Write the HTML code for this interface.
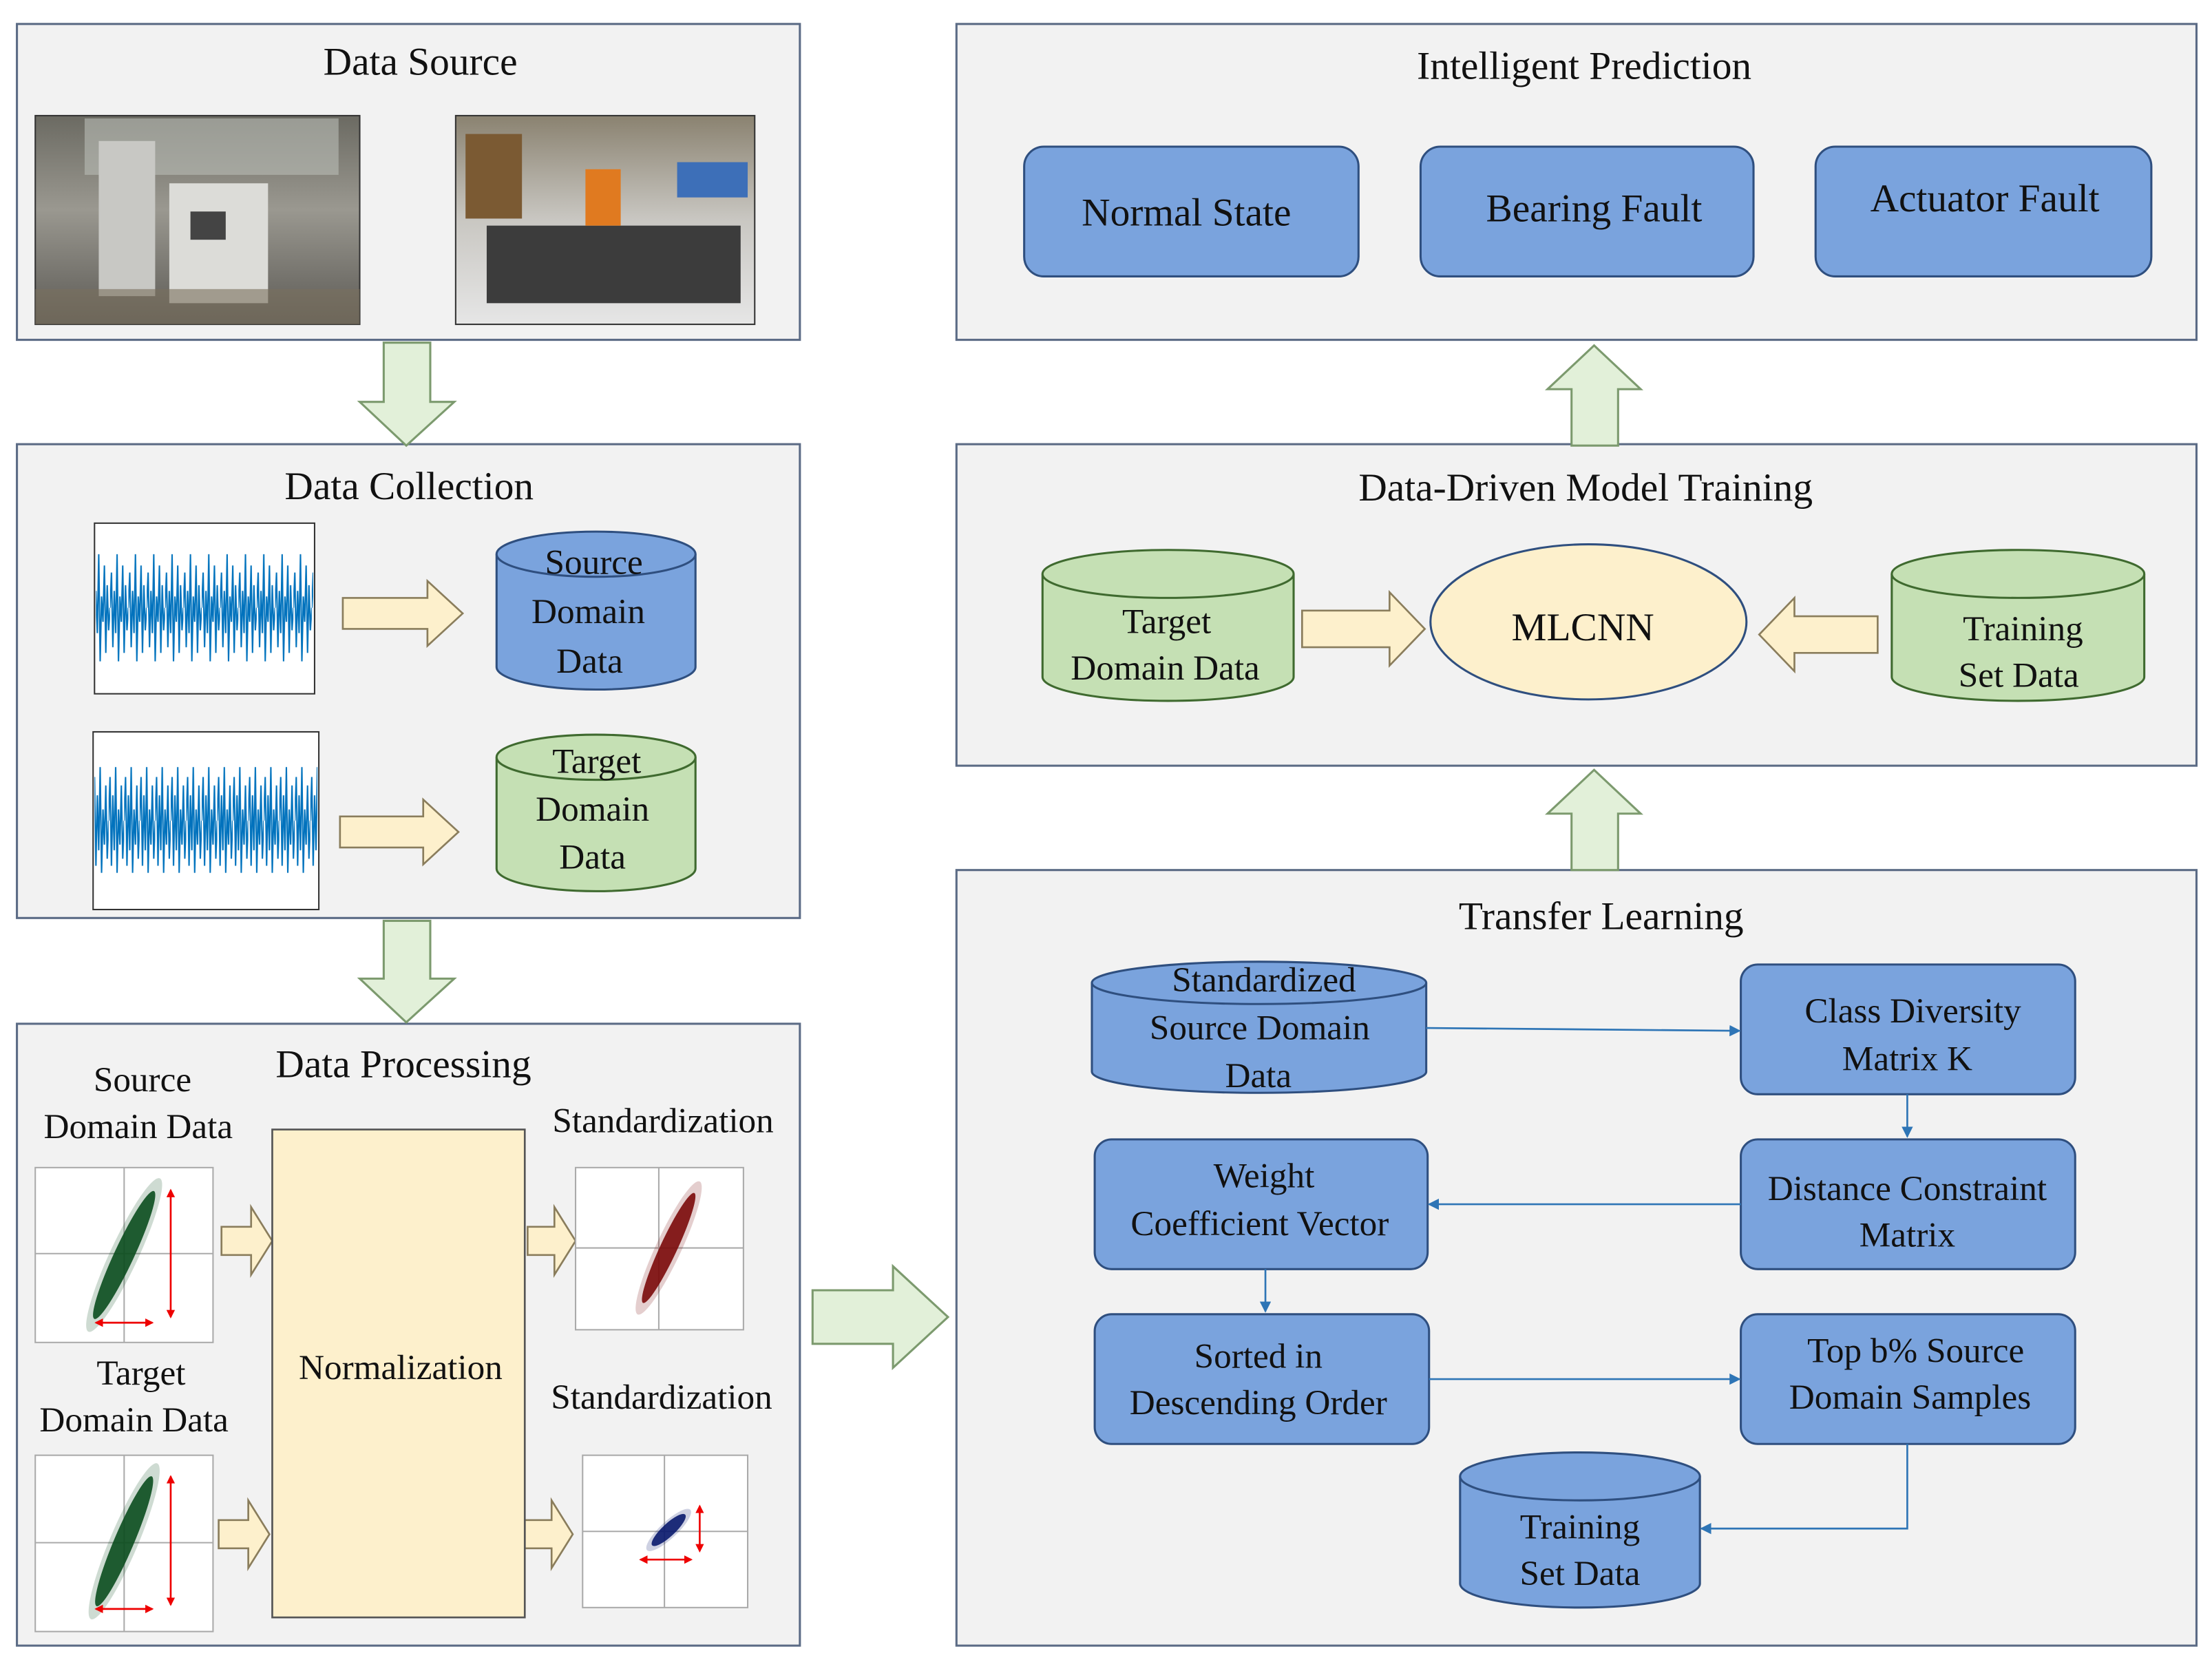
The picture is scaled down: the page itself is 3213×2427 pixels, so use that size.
<!DOCTYPE html>
<html><head><meta charset="utf-8"><style>
html,body{margin:0;padding:0;background:#fff;}
svg{display:block;}
text{font-family:"Liberation Serif","Times New Roman",serif;}
</style></head><body>
<svg width="3213" height="2427" viewBox="0 0 1568 1185" preserveAspectRatio="none" xmlns="http://www.w3.org/2000/svg" fill="#111">
<defs>
<marker id="ah" markerWidth="8" markerHeight="8" refX="7" refY="4" orient="auto" markerUnits="userSpaceOnUse"><path d="M0,0 L8,4 L0,8 z" fill="#2e75b6"/></marker>
<marker id="rh" markerWidth="6" markerHeight="6" refX="5" refY="3" orient="auto-start-reverse" markerUnits="userSpaceOnUse"><path d="M0,0 L6,3 L0,6 z" fill="#e00"/></marker>
<linearGradient id="p1" x1="0" y1="0" x2="0" y2="1"><stop offset="0" stop-color="#6b6a62"/><stop offset="0.45" stop-color="#9a9890"/><stop offset="1" stop-color="#5c5a55"/></linearGradient>
<linearGradient id="p2" x1="0" y1="0" x2="0" y2="1"><stop offset="0" stop-color="#8a8270"/><stop offset="0.5" stop-color="#c9c7c2"/><stop offset="1" stop-color="#e6e6e6"/></linearGradient>
<pattern id="sg1" patternUnits="userSpaceOnUse" x="0" y="371" width="13" height="121">
<path d="M0,60 L1,35 L2,88 L3,48 L4,78 L5,22 L6,98 L7,52 L8,70 L9,30 L10,92 L11,44 L12,76 L13,60" fill="none" stroke="#0072bd" stroke-width="1"/>
</pattern>
<pattern id="sg2" patternUnits="userSpaceOnUse" x="0" y="519" width="11" height="126">
<path d="M0,63 L1,32 L2,95 L3,45 L4,84 L5,25 L6,100 L7,55 L8,80 L9,38 L10,90 L11,63" fill="none" stroke="#0072bd" stroke-width="1"/>
</pattern>
</defs>
<g fill="#f2f2f2" stroke="#5b6b85" stroke-width="1.5">
<rect x="12" y="17" width="555" height="224"/>
<rect x="12" y="315" width="555" height="336"/>
<rect x="12" y="726" width="555" height="441"/>
<rect x="678" y="17" width="879" height="224"/>
<rect x="678" y="315" width="879" height="228"/>
<rect x="678" y="617" width="879" height="550"/>
</g>
<g font-size="28" text-anchor="middle">
<text x="298" y="53">Data Source</text>
<text x="290" y="354">Data Collection</text>
<text x="286" y="764">Data Processing</text>
<text x="1123" y="56">Intelligent Prediction</text>
<text x="1124" y="355">Data-Driven Model Training</text>
<text x="1135" y="659">Transfer Learning</text>
</g>
<rect x="25" y="82" width="230" height="148" fill="url(#p1)" stroke="#333"/>
<rect x="60" y="84" width="180" height="40" fill="#b9bdb5" opacity="0.6"/>
<rect x="70" y="100" width="40" height="110" fill="#c8c8c4"/>
<rect x="120" y="130" width="70" height="85" fill="#dcdcd8"/>
<rect x="135" y="150" width="25" height="20" fill="#444"/>
<rect x="25" y="205" width="230" height="25" fill="#7a6f5e" opacity="0.6"/>
<rect x="323" y="82" width="212" height="148" fill="url(#p2)" stroke="#333"/>
<rect x="330" y="95" width="40" height="60" fill="#7b5a33"/>
<rect x="345" y="160" width="180" height="55" fill="#3c3c3c"/>
<rect x="415" y="120" width="25" height="40" fill="#e07a20"/>
<rect x="480" y="115" width="50" height="25" fill="#3d6fb8"/>
<g fill="#e2f0d9" stroke="#7c9a6e" stroke-width="1.5">
<path d="M272,243 H305 V285 H322 L288,316 L255,285 H272 Z"/>
<path d="M272,653 H305 V694 H322 L288,725 L255,694 H272 Z"/>
<path d="M1114,316 H1147 V276 H1163 L1130,245 L1097,276 H1114 Z"/>
<path d="M1114,617 H1147 V577 H1163 L1130,546 L1097,577 H1114 Z"/>
<path d="M576,915 H633 V898 L672,934 L633,970 V953 H576 Z"/>
</g>
<g fill="#fdf0cc" stroke="#8a7d5c" stroke-width="1.3">
<path d="M243,424 H303 V412 L328,435 L303,458 V446 H243 Z"/>
<path d="M241,579 H300 V567 L325,590 L300,613 V601 H241 Z"/>
<path d="M157,870 H178 V856 L193,880 L178,904 V890 H157 Z"/>
<path d="M155,1078 H176 V1064 L191,1088 L176,1112 V1098 H155 Z"/>
<path d="M374,870 H393 V856 L408,880 L393,904 V890 H374 Z"/>
<path d="M372,1078 H391 V1064 L406,1088 L391,1112 V1098 H372 Z"/>
<path d="M923,433 H985 V420 L1010,446 L985,472 V459 H923 Z"/>
<path d="M1331,437 H1272 V424 L1247,450 L1272,476 V463 H1331 Z"/>
</g>
<rect x="67" y="371" width="156" height="121" fill="#fff" stroke="#333"/>
<rect x="68" y="378" width="154" height="108" fill="url(#sg1)"/>
<rect x="66" y="519" width="160" height="126" fill="#fff" stroke="#333"/>
<rect x="67" y="526" width="158" height="113" fill="url(#sg2)"/>
<g stroke="#2f4f7f" stroke-width="1.5" fill="#7aa3dd">
<path d="M352,393 V473 A70.5,16 0 0 0 493,473 V393"/>
<ellipse cx="422.5" cy="393" rx="70.5" ry="16"/>
<path d="M774,697 V760 A118.5,15 0 0 0 1011,760 V697"/>
<ellipse cx="892.5" cy="697" rx="118.5" ry="15"/>
<path d="M1035,1047 V1123 A85,17 0 0 0 1205,1123 V1047"/>
<ellipse cx="1120" cy="1047" rx="85" ry="17"/>
</g>
<g stroke="#3f6a2f" stroke-width="1.5" fill="#c5e0b4">
<path d="M352,537 V616 A70.5,16 0 0 0 493,616 V537"/>
<ellipse cx="422.5" cy="537" rx="70.5" ry="16"/>
<path d="M739,407 V480 A89,17 0 0 0 917,480 V407"/>
<ellipse cx="828" cy="407" rx="89" ry="17"/>
<path d="M1341,407 V480 A89.5,17 0 0 0 1520,480 V407"/>
<ellipse cx="1430.5" cy="407" rx="89.5" ry="17"/>
</g>
<g font-size="25" text-anchor="middle">
<text x="421" y="407">Source</text><text x="417" y="442">Domain</text><text x="418" y="477">Data</text>
<text x="423" y="548">Target</text><text x="420" y="582">Domain</text><text x="420" y="616">Data</text>
<text x="827" y="449">Target</text><text x="826" y="482">Domain Data</text>
<text x="1434" y="454">Training</text><text x="1431" y="487">Set Data</text>
<text x="896" y="703">Standardized</text><text x="893" y="737">Source Domain</text><text x="892" y="771">Data</text>
<text x="1120" y="1091">Training</text><text x="1120" y="1124">Set Data</text>
</g>
<rect x="193" y="801" width="179" height="346" fill="#fdf0cc" stroke="#555" stroke-width="1.3"/>
<g font-size="25" text-anchor="middle">
<text x="284" y="978">Normalization</text>
<text x="101" y="774">Source</text><text x="98" y="807">Domain Data</text>
<text x="100" y="982">Target</text><text x="95" y="1015">Domain Data</text>
<text x="470" y="803">Standardization</text><text x="469" y="999">Standardization</text>
</g>
<g fill="#fff" stroke="#aaa" stroke-width="1">
<rect x="25" y="828" width="126" height="124"/>
<rect x="25" y="1032" width="126" height="125"/>
<rect x="408" y="828" width="119" height="115"/>
<rect x="413" y="1032" width="117" height="108"/>
<path d="M88,828V952M25,889H151M88,1032V1157M25,1094H151M467,828V943M408,885H527M471,1032V1140M413,1086H530" fill="none"/>
</g>
<g>
<ellipse rx="60" ry="10" fill="#0b4d1e" opacity="0.2" transform="translate(88,890) rotate(-65)"/>
<ellipse rx="50" ry="7" fill="#0b4d1e" opacity="0.9" transform="translate(88,890) rotate(-65)"/>
<ellipse rx="60" ry="10" fill="#0b4d1e" opacity="0.2" transform="translate(88,1093) rotate(-67)"/>
<ellipse rx="50" ry="7" fill="#0b4d1e" opacity="0.9" transform="translate(88,1093) rotate(-67)"/>
<ellipse rx="52" ry="9" fill="#7a0a0a" opacity="0.2" transform="translate(474,885) rotate(-65)"/>
<ellipse rx="43" ry="6" fill="#7a0a0a" opacity="0.9" transform="translate(474,885) rotate(-65)"/>
<ellipse rx="21" ry="6" fill="#0a1a6e" opacity="0.2" transform="translate(474,1085) rotate(-43)"/>
<ellipse rx="16" ry="4.5" fill="#0a1a6e" opacity="0.9" transform="translate(474,1085) rotate(-43)"/>
</g>
<g stroke="#e00" stroke-width="1.3" marker-start="url(#rh)" marker-end="url(#rh)">
<line x1="121" y1="844" x2="121" y2="934"/><line x1="68" y1="938" x2="108" y2="938"/>
<line x1="121" y1="1047" x2="121" y2="1138"/><line x1="68" y1="1141" x2="108" y2="1141"/>
<line x1="496" y1="1068" x2="496" y2="1100"/><line x1="454" y1="1106" x2="490" y2="1106"/>
</g>
<g fill="#7aa3dd" stroke="#2f4f7f" stroke-width="1.5">
<rect x="726" y="104" width="237" height="92" rx="14"/>
<rect x="1007" y="104" width="236" height="92" rx="14"/>
<rect x="1287" y="104" width="238" height="92" rx="14"/>
<rect x="1234" y="684" width="237" height="92" rx="12"/>
<rect x="1234" y="808" width="237" height="92" rx="12"/>
<rect x="776" y="808" width="236" height="92" rx="12"/>
<rect x="776" y="932" width="237" height="92" rx="12"/>
<rect x="1234" y="932" width="237" height="92" rx="12"/>
</g>
<ellipse cx="1126" cy="441" rx="112" ry="55" fill="#fdf0cc" stroke="#2f4f7f" stroke-width="1.5"/>
<g font-size="28" text-anchor="middle">
<text x="841" y="160">Normal State</text>
<text x="1130" y="157">Bearing Fault</text>
<text x="1407" y="150">Actuator Fault</text>
<text x="1122" y="454">MLCNN</text>
</g>
<g font-size="25" text-anchor="middle">
<text x="1356" y="725">Class Diversity</text><text x="1352" y="759">Matrix K</text>
<text x="1352" y="851">Distance Constraint</text><text x="1352" y="884">Matrix</text>
<text x="896" y="842">Weight</text><text x="893" y="876">Coefficient Vector</text>
<text x="892" y="970">Sorted in</text><text x="892" y="1003">Descending Order</text>
<text x="1358" y="966">Top b% Source</text><text x="1354" y="999">Domain Samples</text>
</g>
<g stroke="#2e75b6" stroke-width="1.3" fill="none" marker-end="url(#ah)">
<path d="M1011,729 L1233,731"/>
<path d="M1352,776 V806"/>
<path d="M1234,854 H1013"/>
<path d="M897,900 V930"/>
<path d="M1013,978 H1233"/>
<path d="M1352,1024 V1084 H1206"/>
</g>
</svg>
</body></html>
